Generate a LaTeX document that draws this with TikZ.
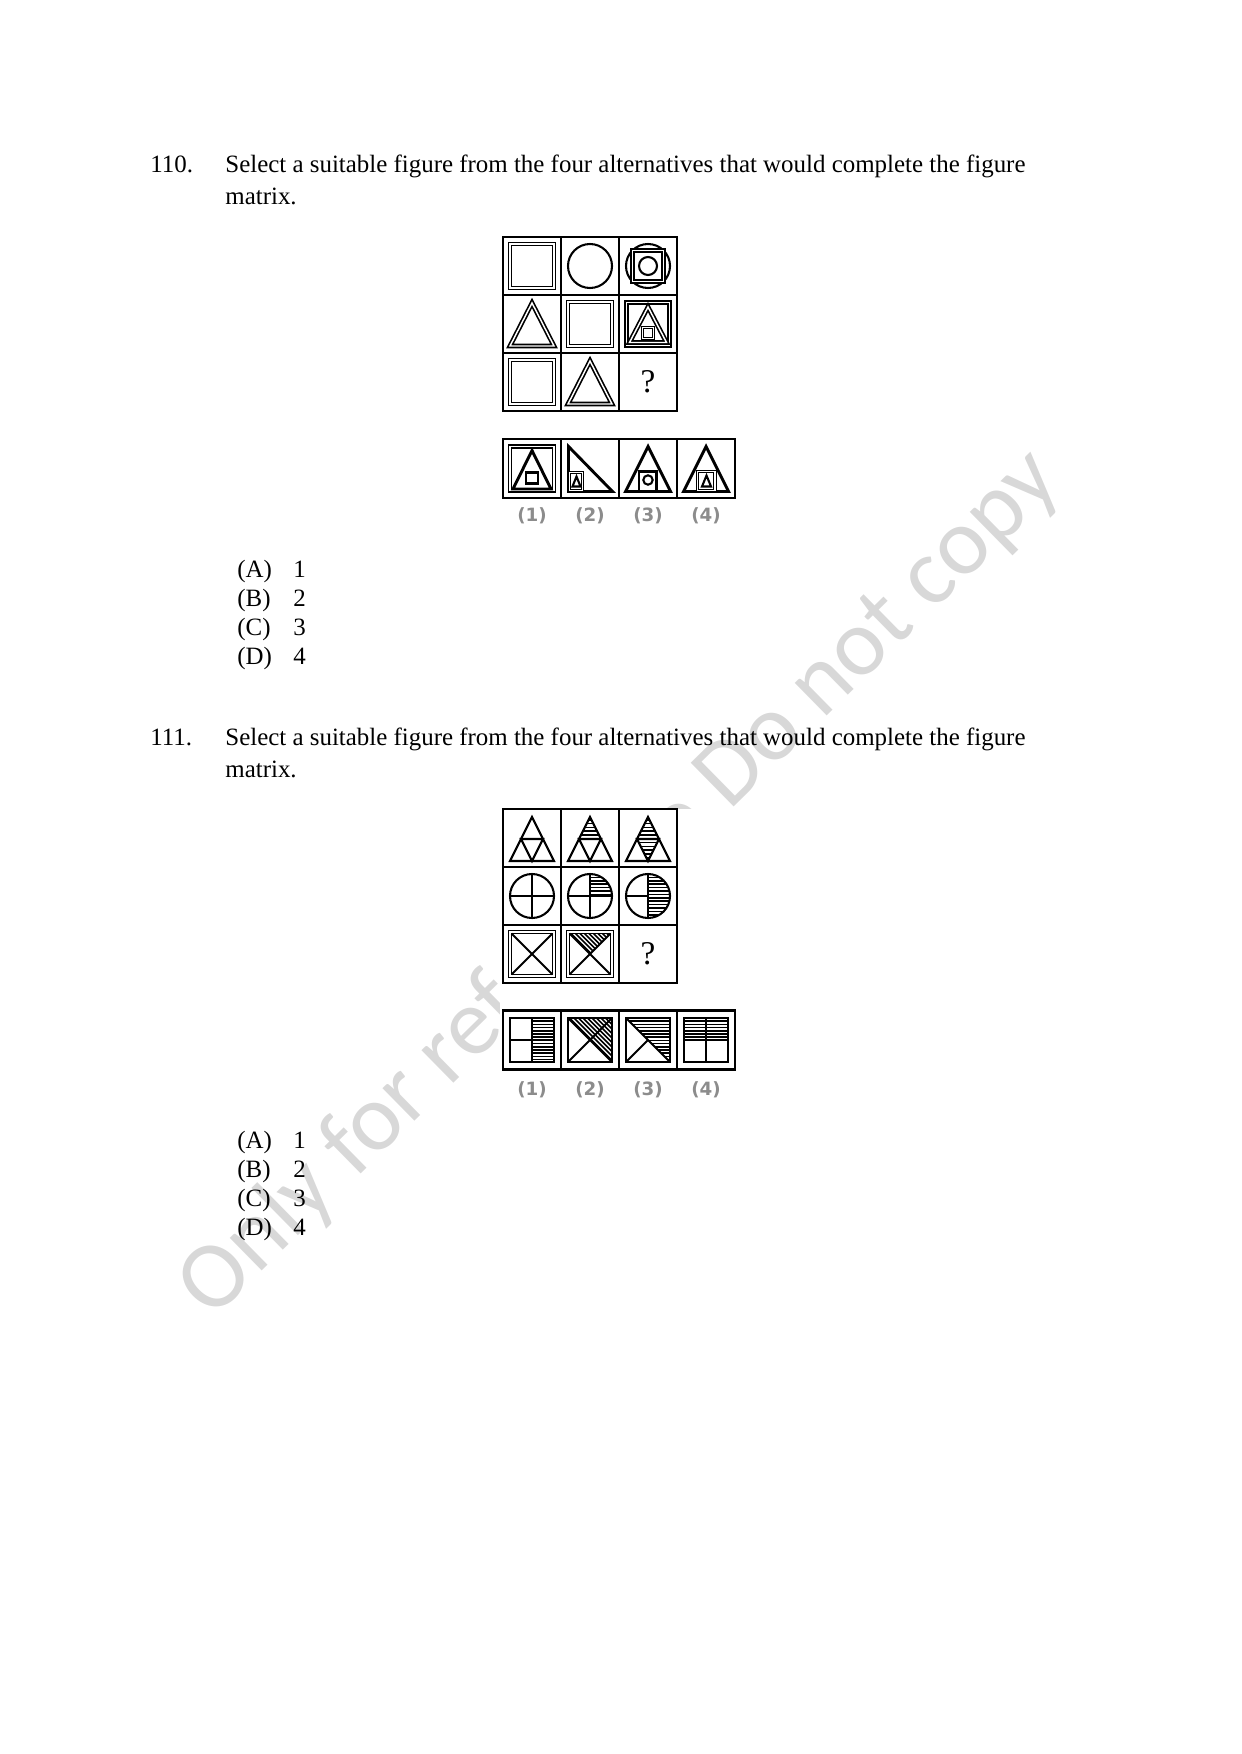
\documentclass[tikz,border=0pt]{standalone}
\usepackage{fontspec}
\setmainfont{Liberation Serif}
\newfontfamily\labfont{DejaVu Sans}
\newfontfamily\wmfont{Carlito}
\usetikzlibrary{positioning}
\newcommand{\pxu}{0.0169218cm}
\definecolor{wmgray}{RGB}{216,216,216}
\definecolor{labgray}{RGB}{140,140,140}
%% hatching inside a clipped cell
\newcommand{\hatchh}[1]{\foreach \k in {-22,#1,...,23} \draw[hatch] (-25,\k) -- (25,\k);}
\newcommand{\hatchd}{\foreach \k in {-48,-43.5,...,48} \draw[hatch] (\k-25,-25) -- (\k+25,25);}

\begin{document}
\begin{tikzpicture}[x=\pxu, y=-\pxu]
        \tikzset{cell/.style={draw, rectangle, line width=1.1pt, minimum size=58*\pxu, inner sep=0pt, outer sep=0pt},
        ocell/.style={cell, minimum height=59*\pxu},
        dbl/.style={draw, line width=0.8pt, double, double distance=0.7pt},
        dblthin/.style={draw, line width=0.6pt, double, double distance=0.5pt},
        shp/.style={draw, line width=1pt},
        thk/.style={draw, line width=1.4pt},
        hatch/.style={line width=0.75pt},
        txt/.style={anchor=base west, inner sep=0pt, font=\fontsize{12}{13.6}\selectfont},
        lab/.style={font=\labfont\bfseries\fontsize{8.8}{10}\selectfont, text=labgray, inner sep=0pt},
        qmark/.style={font=\fontsize{16}{18}\selectfont, inner sep=0pt},
        wmark/.style={font=\wmfont\fontsize{46}{55}\selectfont, text=wmgray, inner sep=0pt},
        mask/.style={fill=white, draw=none}
        }
        \useasboundingbox (0,0) rectangle (1241,1754);

        %% watermark, behind everything
        \node [wmark, rotate=44.5] (wm) at (620,884) {Only for reference Do not copy};

        %% question 110
        \node [txt] (n110) at (150,173) {110.};
        \node [txt] (q110a) at (225,173) {Select a suitable figure from the four alternatives that would complete the figure};
        \node [txt] (q110b) at (225,205) {matrix.};

        \node [cell] (a11) at (532,266) {};
        \node [cell, right =0pt of a11] (a12) {};
        \node [cell, right =0pt of a12] (a13) {};
        \node [cell, below =0pt of a11] (a21) {};
        \node [cell, right =0pt of a21] (a22) {};
        \node [cell, right =0pt of a22] (a23) {};
        \node [cell, below =0pt of a21] (a31) {};
        \node [cell, right =0pt of a31] (a32) {};
        \node [cell, right =0pt of a32] (a33) {};
        \node [qmark] (qa) at (a33) {?};

        \begin{scope}[shift={(a11.center)}]
            \draw[dbl] (-22,-22) rectangle (22,22);
        \end{scope}
        \begin{scope}[shift={(a12.center)}]
            \draw[shp] (0,0) circle (22);
        \end{scope}
        \begin{scope}[shift={(a13.center)}]
            \draw[shp] (0,0) circle (22);
            \draw[dbl] (-15.5,-15.5) rectangle (15.5,15.5);
            \draw[shp] (0,0) circle (9);
        \end{scope}
        \begin{scope}[shift={(a21.center)}]
            \draw[dbl] (0,-21) -- (22,22) -- (-22,22) -- cycle;
        \end{scope}
        \begin{scope}[shift={(a22.center)}]
            \draw[dbl] (-22,-22) rectangle (22,22);
        \end{scope}
        \begin{scope}[shift={(a23.center)}]
            \draw[dbl] (-21.5,-21.5) rectangle (21.5,21.5);
            \draw[dbl] (0,-17) -- (18.5,18.5) -- (-18.5,18.5) -- cycle;
            \draw[dblthin] (-5.5,3.5) rectangle (5.5,14.5);
        \end{scope}
        \begin{scope}[shift={(a31.center)}]
            \draw[dbl] (-22,-22) rectangle (22,22);
        \end{scope}
        \begin{scope}[shift={(a32.center)}]
            \draw[dbl] (0,-21) -- (22,22) -- (-22,22) -- cycle;
        \end{scope}

        %% alternatives of 110
        \node [ocell] (b1) at (532,468.5) {};
        \node [ocell, right =0pt of b1] (b2) {};
        \node [ocell, right =0pt of b2] (b3) {};
        \node [ocell, right =0pt of b3] (b4) {};
        \node [lab, below =0.15cm of b1] (lb1) {(1)};
        \node [lab, below =0.15cm of b2] (lb2) {(2)};
        \node [lab, below =0.15cm of b3] (lb3) {(3)};
        \node [lab, below =0.15cm of b4] (lb4) {(4)};

        \begin{scope}[shift={(b1.center)}]
            \draw[dbl] (-22,-22) rectangle (22,22);
            \draw[thk] (0,-18) -- (19,20.5) -- (-19,20.5) -- cycle;
            \draw[thk] (-6,4) rectangle (6,15);
        \end{scope}
        \begin{scope}[shift={(b2.center)}]
            \draw[thk] (-21.5,-22) -- (22.5,23) -- (-21.5,23) -- cycle;
            \draw[dblthin] (-20.5,4) rectangle (-7.5,22);
            \draw[shp] (-13.5,8) -- (-9.5,18) -- (-17.5,18) -- cycle;
        \end{scope}
        \begin{scope}[shift={(b3.center)}]
            \draw[thk] (0,-22) -- (22.5,23) -- (-22.5,23) -- cycle;
            \draw[shp] (-9,3) rectangle (8.5,23);
            \draw[shp] (0,11.5) circle (4.7);
        \end{scope}
        \begin{scope}[shift={(b4.center)}]
            \draw[thk] (0,-22) -- (22.5,23) -- (-22.5,23) -- cycle;
            \draw[dblthin] (-8.5,3) rectangle (9,22);
            \draw[shp] (0.5,7) -- (5,18) -- (-4,18) -- cycle;
        \end{scope}

        \node [txt] (a110) at (237,577) {(A)};
        \node [txt] (v110a) at (293,577) {1};
        \node [txt] (b110) at (237,606) {(B)};
        \node [txt] (v110b) at (293,606) {2};
        \node [txt] (c110) at (237,635) {(C)};
        \node [txt] (v110c) at (293,635) {3};
        \node [txt] (d110) at (237,664) {(D)};
        \node [txt] (v110d) at (293,664) {4};

        %% question 111
        \node [txt] (n111) at (150,745) {111.};
        \node [txt] (q111a) at (225,745) {Select a suitable figure from the four alternatives that would complete the figure};
        \node [txt] (q111b) at (225,777) {matrix.};

        \fill[mask] (500,809) rectangle (745,1105);

        \node [cell] (c11) at (532,838) {};
        \node [cell, right =0pt of c11] (c12) {};
        \node [cell, right =0pt of c12] (c13) {};
        \node [cell, below =0pt of c11] (c21) {};
        \node [cell, right =0pt of c21] (c22) {};
        \node [cell, right =0pt of c22] (c23) {};
        \node [cell, below =0pt of c21] (c31) {};
        \node [cell, right =0pt of c31] (c32) {};
        \node [cell, right =0pt of c32] (c33) {};
        \node [qmark] (qc) at (c33) {?};

        \begin{scope}[shift={(c11.center)}]
            \draw[shp] (0,-21) -- (22,23) -- (-22,23) -- cycle;
            \draw[shp] (-11,1) -- (11,1) -- (0,23) -- cycle;
        \end{scope}
        \begin{scope}[shift={(c12.center)}]
            \begin{scope}
                \clip (0,-21) -- (11,1) -- (-11,1) -- cycle;
                \hatchh{-18.2}
            \end{scope}
            \draw[shp] (0,-21) -- (22,23) -- (-22,23) -- cycle;
            \draw[shp] (-11,1) -- (11,1) -- (0,23) -- cycle;
        \end{scope}
        \begin{scope}[shift={(c13.center)}]
            \begin{scope}
                \clip (0,-21) -- (11,1) -- (0,23) -- (-11,1) -- cycle;
                \hatchh{-18.2}
            \end{scope}
            \draw[shp] (0,-21) -- (22,23) -- (-22,23) -- cycle;
            \draw[shp] (-11,1) -- (11,1) -- (0,23) -- cycle;
        \end{scope}
        \begin{scope}[shift={(c21.center)}]
            \draw[shp] (0,0) circle (22);
            \draw[shp] (-22,0) -- (22,0) (0,-22) -- (0,22);
        \end{scope}
        \begin{scope}[shift={(c22.center)}]
            \begin{scope}
                \clip (0,0) circle (22);
                \clip (0,-23) rectangle (23,0);
                \hatchh{-18.6}
            \end{scope}
            \draw[shp] (0,0) circle (22);
            \draw[shp] (-22,0) -- (22,0) (0,-22) -- (0,22);
        \end{scope}
        \begin{scope}[shift={(c23.center)}]
            \begin{scope}
                \clip (0,0) circle (22);
                \clip (0,-23) rectangle (23,23);
                \hatchh{-18.6}
            \end{scope}
            \draw[shp] (0,0) circle (22);
            \draw[shp] (-22,0) -- (0,0) (0,-22) -- (0,22);
        \end{scope}
        \begin{scope}[shift={(c31.center)}]
            \draw[dbl] (-22,-22) rectangle (22,22);
            \draw[shp] (-20.5,-20.5) -- (20.5,20.5) (-20.5,20.5) -- (20.5,-20.5);
        \end{scope}
        \begin{scope}[shift={(c32.center)}]
            \begin{scope}
                \clip (-21,-21) -- (21,-21) -- (0,0) -- cycle;
                \hatchd
            \end{scope}
            \draw[dbl] (-22,-22) rectangle (22,22);
            \draw[shp] (-20.5,-20.5) -- (20.5,20.5) (-20.5,20.5) -- (20.5,-20.5);
        \end{scope}

        %% alternatives of 111
        \node [ocell] (d1) at (532,1040) {};
        \node [ocell, right =0pt of d1] (d2) {};
        \node [ocell, right =0pt of d2] (d3) {};
        \node [ocell, right =0pt of d3] (d4) {};
        \node [lab, below =0.2cm of d1] (ld1) {(1)};
        \node [lab, below =0.2cm of d2] (ld2) {(2)};
        \node [lab, below =0.2cm of d3] (ld3) {(3)};
        \node [lab, below =0.2cm of d4] (ld4) {(4)};

        \begin{scope}[shift={(d1.center)}]
            \begin{scope}
                \clip (0,-22) rectangle (22,22);
                \hatchh{-18.8}
            \end{scope}
            \draw[thk] (-22,-22) rectangle (22,22);
            \draw[shp] (-22,0) -- (22,0) (0,-22) -- (0,22);
        \end{scope}
        \begin{scope}[shift={(d2.center)}]
            \begin{scope}
                \clip (-22,-22) -- (22,-22) -- (22,22) -- cycle;
                \hatchd
            \end{scope}
            \draw[thk] (-22,-22) rectangle (22,22);
            \draw[shp] (-22,-22) -- (22,22) (-22,22) -- (22,-22);
        \end{scope}
        \begin{scope}[shift={(d3.center)}]
            \begin{scope}
                \clip (-22,-22) -- (22,-22) -- (22,22) -- cycle;
                \hatchh{-18.8}
            \end{scope}
            \draw[thk] (-22,-22) rectangle (22,22);
            \draw[shp] (-22,-22) -- (22,22) (-22,22) -- (0,0);
        \end{scope}
        \begin{scope}[shift={(d4.center)}]
            \begin{scope}
                \clip (-22,-22) rectangle (22,0);
                \hatchh{-18.8}
            \end{scope}
            \draw[thk] (-22,-22) rectangle (22,22);
            \draw[shp] (-22,0) -- (22,0) (0,-22) -- (0,22);
        \end{scope}

        \node [txt] (a111) at (237,1148) {(A)};
        \node [txt] (v111a) at (293,1148) {1};
        \node [txt] (b111) at (237,1177) {(B)};
        \node [txt] (v111b) at (293,1177) {2};
        \node [txt] (c111) at (237,1206) {(C)};
        \node [txt] (v111c) at (293,1206) {3};
        \node [txt] (d111) at (237,1235) {(D)};
        \node [txt] (v111d) at (293,1235) {4};
    \end{tikzpicture}
\end{document}
